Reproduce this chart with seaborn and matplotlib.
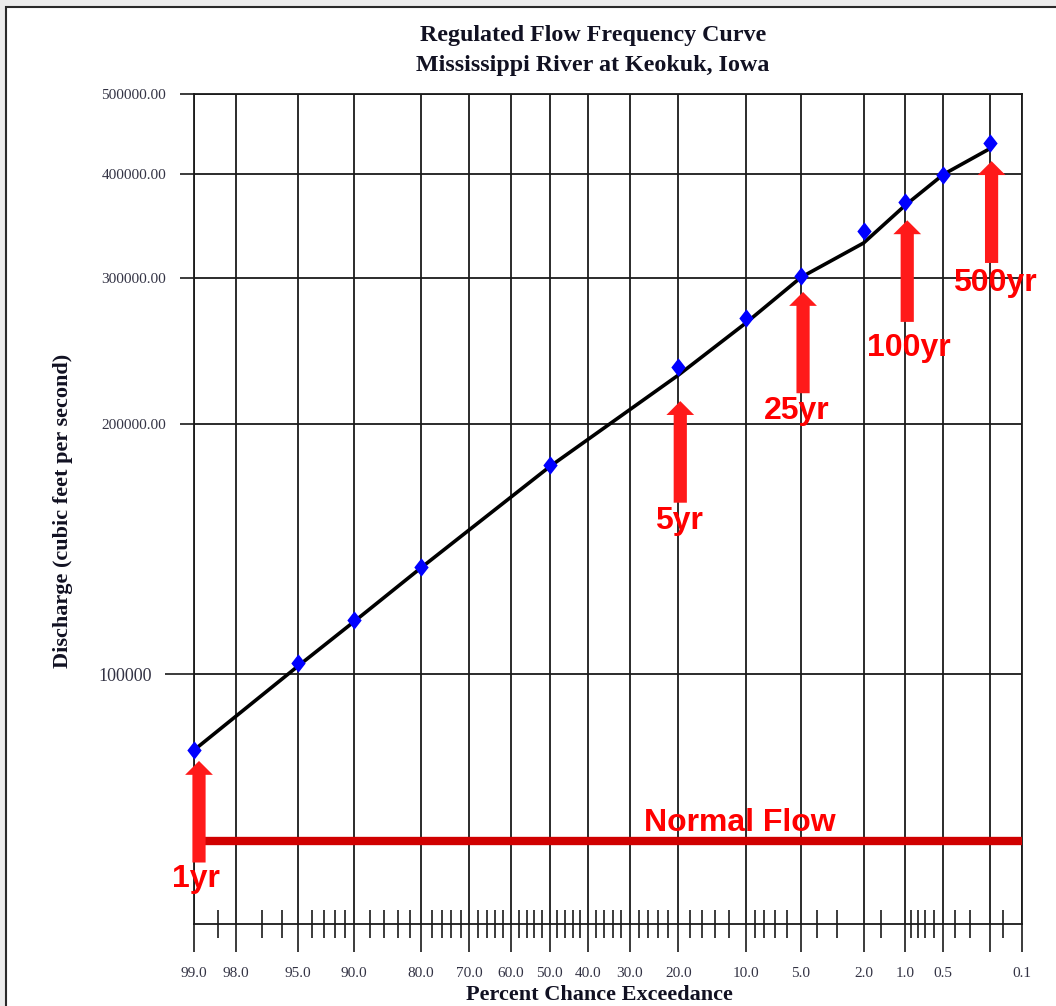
import numpy as np
import pandas as pd
import matplotlib
matplotlib.use('Agg')
import matplotlib.pyplot as plt
from matplotlib.ticker import FixedLocator, FixedFormatter
from matplotlib.patches import Rectangle
from matplotlib.transforms import offset_copy
import seaborn as sns
from statistics import NormalDist

# data
pct = [99, 95, 90, 80, 50, 20, 10, 5, 2, 1, 0.5, 0.2]
computed_q = [81000, 103100, 116100, 134700, 178400, 234300, 268900, 301500, 341700, 370500, 399600, 436800]
curve_q = [81000, 102300, 115600, 134300, 177800, 229200, 264700, 300700, 330700, 367200, 400000, 429500]

normal_flow = 63000

arrow_labels = ['1yr', '5yr', '25yr', '100yr', '500yr']
arrow_x = [99, 20, 5, 1, 0.2]
arrow_tip = [78600, 213300, 288700, 352200, 415000]
arrow_tail = [59300, 160900, 218000, 265700, 312900]
label_y = [56600, 152900, 207400, 247000, 295800]

x_major = [99, 98, 95, 90, 80, 70, 60, 50, 40, 30, 20, 10, 5, 2, 1, 0.5, 0.2, 0.1]
x_labels = ['99.0', '98.0', '95.0', '90.0', '80.0', '70.0', '60.0', '50.0', '40.0', '30.0',
            '20.0', '10.0', '5.0', '2.0', '1.0', '0.5', '', '0.1']
x_minor = [98.5, 97, 96, 94, 93, 92, 91, 88, 86, 84, 82, 78, 76, 74, 72, 68, 66, 64, 62,
           58, 56, 54, 52, 48, 46, 44, 42, 38, 36, 34, 32, 28, 26, 24, 22, 18, 16, 14, 12,
           9, 8, 7, 6, 4, 3, 1.5, 0.9, 0.8, 0.7, 0.6, 0.4, 0.3, 0.15]
y_major = [200000, 300000, 400000, 500000]
y_major_labels = ['200000.00', '300000.00', '400000.00', '500000.00']
y_minor = [100000]
y_minor_labels = ['100000']

df = pd.DataFrame({'pct': pct, 'computed': computed_q, 'curve': curve_q})

# normal probability scale for the x axis
nd = NormalDist()
_ppf = np.vectorize(lambda v: nd.inv_cdf(min(max(v / 100.0, 1e-6), 1 - 1e-6)) if np.isfinite(v) else np.nan, otypes=[float])
_cdf = np.vectorize(lambda v: nd.cdf(v) * 100.0 if np.isfinite(v) else np.nan, otypes=[float])

def forward(p):
    return _ppf(np.asarray(p, dtype=float))

def inverse(z):
    return _cdf(np.asarray(z, dtype=float))

sns.set_style('white')
serif = ['Liberation Serif', 'DejaVu Serif']
sans = ['Liberation Sans', 'DejaVu Sans']
plt.rcParams['font.family'] = serif

fig = plt.figure(figsize=(10.56, 10.06), dpi=100)
fig.patch.set_facecolor('#ececec')
fig.patches.append(Rectangle((6 / 1056, -0.01), 1.0, 1 - 7 / 1006 + 0.01, transform=fig.transFigure,
                             facecolor='white', edgecolor='#2a2a2a', lw=1.5, zorder=-10))

ax = fig.add_axes([194 / 1056, 1 - 924 / 1006, (1022 - 194) / 1056, (924 - 94) / 1006])
ax.set_facecolor('white')
ax.set_xscale('function', functions=(forward, inverse))
ax.set_yscale('log')

# slightly taller than wide diamond, like the original
diamond = [(0, 1), (0.78, 0), (0, -1), (-0.78, 0), (0, 1)]

sns.lineplot(data=df, x='pct', y='curve', ax=ax, color='black', lw=2.6, estimator=None, sort=False, zorder=3)
sns.scatterplot(data=df, x='pct', y='computed', ax=ax, color='#0000ff', marker=diamond, s=175,
                linewidth=0, zorder=4, clip_on=False)

ax.plot([99, 0.1], [normal_flow, normal_flow], color='#d00000', lw=6, solid_capstyle='butt', zorder=5)

arrow_dx = [5, 2, 2, 2, 2]
label_dx = [2, 1, -4, 4, 5]
for lab, xa, tip, tail, ly, adx, ldx in zip(arrow_labels, arrow_x, arrow_tip, arrow_tail, label_y,
                                            arrow_dx, label_dx):
    tr = offset_copy(ax.transData, fig=fig, x=adx, y=0, units='dots')
    ax.annotate('', xy=(xa, tip), xytext=(xa, tail), xycoords=tr, textcoords=tr,
                arrowprops=dict(arrowstyle='simple,head_length=1.0,head_width=2.0,tail_width=0.95',
                                color='#ff1a1a', mutation_scale=10, shrinkA=0, shrinkB=0, lw=0),
                zorder=6)
    ax.text(xa, ly, lab, ha='center', va='center', color='#ff0000', fontsize=23,
            fontweight='bold', family=sans, zorder=7,
            transform=offset_copy(ax.transData, fig=fig, x=ldx, y=0, units='dots'))

ax.text(10.7, 66230, 'Normal Flow', ha='center', va='center', color='#ff0000', fontsize=23,
        fontweight='bold', family=sans, zorder=7)

ax.set_xlim(99, 0.1)
ax.set_ylim(50000, 500000)

ax.xaxis.set_major_locator(FixedLocator(x_major))
ax.xaxis.set_major_formatter(FixedFormatter(x_labels))
ax.xaxis.set_minor_locator(FixedLocator(x_minor))
ax.xaxis.set_minor_formatter(FixedFormatter([''] * len(x_minor)))
ax.yaxis.set_major_locator(FixedLocator(y_major))
ax.yaxis.set_major_formatter(FixedFormatter(y_major_labels))
ax.yaxis.set_minor_locator(FixedLocator(y_minor))
ax.yaxis.set_minor_formatter(FixedFormatter(y_minor_labels))

ax.tick_params(axis='x', which='both', bottom=True, top=False)
ax.tick_params(axis='y', which='both', left=True, right=False)
ax.tick_params(axis='x', which='major', direction='out', length=20, width=1.2, color='#1a1a1a',
               labelsize=11, labelcolor='#333344', pad=11)
ax.tick_params(axis='x', which='minor', direction='inout', length=20, width=1.2, color='#1a1a1a')
ax.tick_params(axis='y', which='major', direction='out', length=10, width=1.2, color='#1a1a1a',
               labelsize=11, labelcolor='#333344', pad=10)
ax.tick_params(axis='y', which='minor', direction='out', length=21, width=1.2, color='#1a1a1a',
               labelsize=13, labelcolor='#333344', pad=9)

ax.xaxis.grid(True, which='major', color='#1a1a1a', lw=1.3, zorder=0)
ax.yaxis.grid(True, which='both', color='#1a1a1a', lw=1.3, zorder=0)
ax.set_axisbelow(True)
for sp in ax.spines.values():
    sp.set_color('#1a1a1a')
    sp.set_linewidth(1.3)

ax.set_xlabel('')
ax.set_ylabel('')
fig.text(593 / 1056, 1 - 36 / 1006, 'Regulated Flow Frequency Curve', ha='center', va='center',
         fontsize=17.3, fontweight='bold', color='#111122')
fig.text(593 / 1056, 1 - 65 / 1006, 'Mississippi River at Keokuk, Iowa', ha='center', va='center',
         fontsize=17.3, fontweight='bold', color='#111122')
fig.text(63 / 1056, 1 - 511 / 1006, 'Discharge (cubic feet per second)', rotation=90, ha='center',
         va='center', fontsize=16, fontweight='bold', color='#111122')
fig.text(599 / 1056, 1 - 995 / 1006, 'Percent Chance Exceedance', ha='center', va='center',
         fontsize=16, fontweight='bold', color='#111122')

fig.savefig('out.png', dpi=100)
